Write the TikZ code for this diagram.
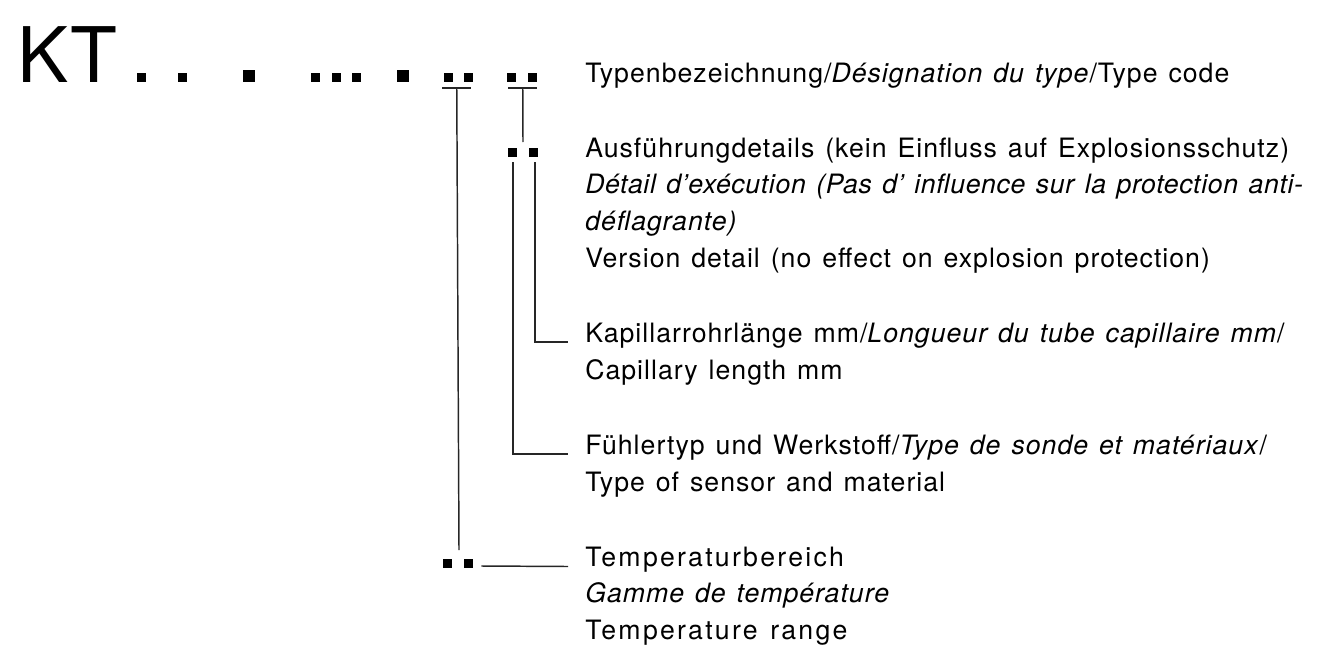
\documentclass[tikz,border=0pt]{standalone}
\usepackage{fontspec}
\setmainfont[LetterSpace=3.8,WordSpace=1.3]{TeX Gyre Heros}
\newfontfamily\ktfont{TeX Gyre Heros}
\usetikzlibrary{calc}

\tikzset{
  dot/.style={fill=black, inner sep=0pt, minimum size=6.75pt},
  bigdot/.style={fill=black, inner sep=0pt, minimum width=9.4pt, minimum height=9pt},
  lead/.style={draw=black!85, line width=1.1pt},
  legend/.style={anchor=base west, inner sep=0pt, align=left,
    font=\fontsize{20}{27.5}\selectfont},
}
\newcommand{\tighter}{\addfontfeatures{LetterSpace=2.4}}
\newcommand{\looser}{\addfontfeatures{LetterSpace=8.5}}

\begin{document}
\begin{tikzpicture}[x=0.75pt,y=0.75pt,yscale=-1,xscale=1]
%set diagram left start at 0, and has height of 646
\useasboundingbox (0,0) rectangle (1338,646);

% Text Node
\node [anchor=base west, inner sep=0pt, font=\ktfont\fontsize{57.5}{60}\selectfont] (kt) at (17.5,82) {KT};

%Shape: Squares of the type code
\node [dot] (d1) at (141,77.5) {};
\node [dot] (d2) at (182,77.5) {};
\node [bigdot] (d3) at (249,76) {};
\node [dot] (d4) at (315.5,77.5) {};
\node [dot] (d5) at (336,77.5) {};
\node [dot] (d6) at (356.5,77.5) {};
\node [bigdot] (d7) at (403,76) {};
\node [dot] (d8) at (448,77.5) {};
\node [dot] (d9) at (468.5,77.5) {};
\node [dot] (d10) at (511.5,77.5) {};
\node [dot] (d11) at (532,77.5) {};
%Shape: Squares of the version detail
\node [dot] (m1) at (512.5,152.5) {};
\node [dot] (m2) at (533.5,152.5) {};
%Shape: Squares of the temperature range
\node [dot] (u1) at (447.5,563.5) {};
\node [dot] (u2) at (468.5,563.5) {};

% Text Node (anchored at the baseline of the last line)
\node [legend] (tType) at (585,82) {Typenbezeichnung/\textit{Désignation du type}/Type code};
% Text Node
\node [legend] (tAus) at (585,267) {Ausführungdetails (kein Einfluss auf Explosionsschutz)\\
  \textit{\tighter Détail d’exécution (Pas d’ influence sur la protection anti-}\\
  \textit{déflagrante)}\\
  Version detail (no effect on explosion protection)};
% Text Node
\node [legend] (tKap) at (585,379) {Kapillarrohrlänge mm/\textit{Longueur du tube capillaire mm}/\\
  Capillary length mm};
% Text Node
\node [legend] (tFuehl) at (585,491) {Fühlertyp und Werkstoff/\textit{Type de sonde et matériaux}/\\
  Type of sensor and material};
% Text Node
\node [legend] (tTemp) at (585,639.5) {{\looser Temperaturbereich}\\
  \textit{Gamme de température}\\
  {\looser Temperature range}};

%Straight Lines: bars under the square pairs
\coordinate (bar1) at ($(d8)!0.5!(d9)+(-1.5,10.5)$);
\coordinate (bar2) at ($(d10)!0.5!(d11)+(1,10.5)$);
\draw [lead] ($(bar1)+(-14.5,0)$) -- ($(bar1)+(14.5,0)$);
\draw [lead] ($(bar2)+(-14.5,0)$) -- ($(bar2)+(14.5,0)$);
%Straight Lines: stems
\draw [lead] (bar1) -- ($(u1)!0.5!(u2)+(1,-13.5)$);
\draw [lead] (bar2) -- ($(m1)!0.5!(m2)+(0,-10.5)$);
%Straight Lines: elbows to the first text lines
\draw [lead] ($(m2.south)+(1.5,5)$) |- ($(tKap.base west)+(-17,-37)$);
\draw [lead] ($(m1.south)+(0.5,5)$) |- ($(tFuehl.base west)+(-17,-37)$);
\draw [lead] ($(u2.east)+(8,2.5)$) -- ($(tTemp.base west)+(-17,-73)$);

\end{tikzpicture}
\end{document}
